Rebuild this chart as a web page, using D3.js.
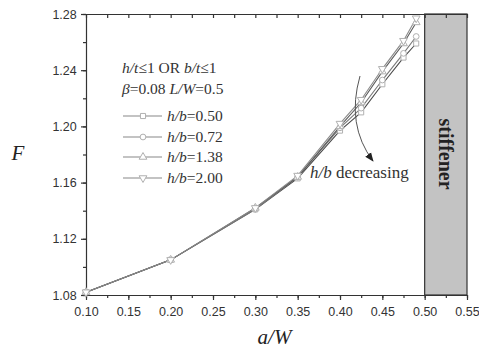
<!DOCTYPE html>
<html>
<head>
<meta charset="utf-8">
<script src="https://cdn.jsdelivr.net/npm/d3@7"></script>
<style>
  body { margin: 0; background: #fff; }
  svg { display: block; }
</style>
</head>
<body>
<div id="chart"></div>
<script>
// a/W values where F was computed
var aW = [0.10, 0.20, 0.30, 0.35, 0.40, 0.425, 0.45, 0.475, 0.49];
// F for each h/b
var F_hb200 = [1.082, 1.105, 1.142, 1.165, 1.202, 1.219, 1.241, 1.261, 1.277];
var F_hb138 = [1.082, 1.105, 1.142, 1.164, 1.200, 1.217, 1.239, 1.259, 1.274];
var F_hb072 = [1.082, 1.105, 1.141, 1.164, 1.199, 1.213, 1.233, 1.252, 1.264];
var F_hb050 = [1.082, 1.105, 1.141, 1.163, 1.197, 1.210, 1.230, 1.249, 1.259];
var seriesNames = ["h/b=0.50", "h/b=0.72", "h/b=1.38", "h/b=2.00"];
var xTicks = [0.10, 0.15, 0.20, 0.25, 0.30, 0.35, 0.40, 0.45, 0.50, 0.55];
var yTicks = [1.08, 1.12, 1.16, 1.20, 1.24, 1.28];
var stiffenerStart = 0.50;

var W = 479, H = 350;
var margin = {top: 14, right: 12, bottom: 55, left: 86};

var svg = d3.select("#chart").append("svg")
  .attr("width", W).attr("height", H);

var x = d3.scaleLinear().domain([0.10, 0.55]).range([margin.left, W - margin.right]);
var y = d3.scaleLinear().domain([1.08, 1.28]).range([H - margin.bottom, margin.top]);

var serif = "'Liberation Serif', 'DejaVu Serif', serif";
var sans = "'Liberation Sans', Arial, sans-serif";

// stiffener zone
svg.append("rect")
  .attr("x", x(stiffenerStart)).attr("y", y(1.28))
  .attr("width", x(0.55) - x(stiffenerStart))
  .attr("height", y(1.08) - y(1.28))
  .attr("fill", "#c3c3c3").attr("stroke", "#333").attr("stroke-width", 1.2);

svg.append("text")
  .attr("transform", "translate(" + (x(0.525) - 7) + "," + 154 + ") rotate(90)")
  .attr("text-anchor", "middle")
  .attr("font-family", serif).attr("font-weight", "bold").attr("font-size", 20)
  .attr("fill", "#222")
  .text("stiffener");

// minor ticks every 0.025 / 0.02
var xMinor = d3.range(0, 19).map(function(i) { return +(0.10 + i * 0.025).toFixed(3); });
var yMinor = d3.range(0, 11).map(function(i) { return +(1.08 + i * 0.02).toFixed(3); });

var axisColor = "#333";

var bottomAxis = svg.append("g")
  .attr("transform", "translate(0," + y(1.08) + ")")
  .call(d3.axisBottom(x).tickValues(xTicks).tickFormat(d3.format(".2f")).tickSize(5).tickSizeOuter(0));
svg.append("g")
  .attr("transform", "translate(0," + y(1.08) + ")")
  .call(d3.axisBottom(x).tickValues(xMinor).tickFormat("").tickSize(3).tickSizeOuter(0))
  .select(".domain").remove();

var leftAxis = svg.append("g")
  .attr("transform", "translate(" + x(0.10) + ",0)")
  .call(d3.axisLeft(y).tickValues(yTicks).tickFormat(d3.format(".2f")).tickSize(5).tickSizeOuter(0));
svg.append("g")
  .attr("transform", "translate(" + x(0.10) + ",0)")
  .call(d3.axisLeft(y).tickValues(yMinor).tickFormat("").tickSize(3).tickSizeOuter(0))
  .select(".domain").remove();

var topAxis = svg.append("g")
  .attr("transform", "translate(0," + y(1.28) + ")")
  .call(d3.axisBottom(x).tickValues(xMinor).tickFormat("").tickSize(4).tickSizeOuter(0));

[bottomAxis, leftAxis, topAxis].forEach(function(g) {
  g.selectAll("path, line").attr("stroke", axisColor).attr("stroke-width", 1.2);
  g.selectAll("text").attr("font-family", sans).attr("font-size", 12.5).attr("fill", "#333");
});
svg.selectAll("g line").attr("stroke", axisColor).attr("stroke-width", 1.2);
bottomAxis.selectAll("text").attr("dy", "1.05em");
leftAxis.selectAll("text").attr("dx", "-0.1em");

// axis titles
svg.append("text")
  .attr("x", x(0.325) - 2).attr("y", 344)
  .attr("text-anchor", "middle")
  .attr("font-family", serif).attr("font-style", "italic").attr("font-size", 21)
  .attr("fill", "#222")
  .text("a/W");
svg.append("text")
  .attr("x", 18).attr("y", y(1.176))
  .attr("text-anchor", "middle")
  .attr("font-family", serif).attr("font-style", "italic").attr("font-size", 21)
  .attr("fill", "#222")
  .text("F");

// series
var seriesData = [F_hb050, F_hb072, F_hb138, F_hb200];
var lineColors = ["#4a4a4a", "#7a7a7a", "#5c5c5c", "#8a8a8a"];
var symbols = [
  {type: d3.symbolSquare, rot: 0},
  {type: d3.symbolCircle, rot: 0},
  {type: d3.symbolTriangle, rot: 0},
  {type: d3.symbolTriangle, rot: 180}
];

var line = d3.line()
  .x(function(d) { return x(d[0]); })
  .y(function(d) { return y(d[1]); });

seriesData.forEach(function(vals, i) {
  var pts = aW.map(function(a, j) { return [a, vals[j]]; });
  svg.append("path")
    .datum(pts)
    .attr("d", line)
    .attr("fill", "none")
    .attr("stroke", lineColors[i])
    .attr("stroke-width", 1.1);
});
seriesData.forEach(function(vals, i) {
  var pts = aW.map(function(a, j) { return [a, vals[j]]; });
  svg.append("g").selectAll("path")
    .data(pts)
    .enter().append("path")
    .attr("d", d3.symbol().type(symbols[i].type).size(26))
    .attr("transform", function(d) {
      return "translate(" + x(d[0]) + "," + y(d[1]) + ") rotate(" + symbols[i].rot + ")";
    })
    .attr("fill", "#fff")
    .attr("stroke", "#b0b0b0")
    .attr("stroke-width", 1);
});

// legend header
var hdr = svg.append("text")
  .attr("x", 122).attr("y", 73)
  .attr("font-family", serif).attr("font-size", 15.5).attr("fill", "#333");
hdr.append("tspan").attr("font-style", "italic").text("h/t");
hdr.append("tspan").text("\u22641 OR ");
hdr.append("tspan").attr("font-style", "italic").text("b/t");
hdr.append("tspan").text("\u22641");

var hdr2 = svg.append("text")
  .attr("x", 122).attr("y", 94)
  .attr("font-family", serif).attr("font-size", 15.5).attr("fill", "#333");
hdr2.append("tspan").attr("font-style", "italic").text("\u03b2");
hdr2.append("tspan").text("=0.08 ");
hdr2.append("tspan").attr("font-style", "italic").text("L/W");
hdr2.append("tspan").text("=0.5");

var legendY = [116, 137, 157, 178];
seriesNames.forEach(function(name, i) {
  var ly = legendY[i];
  svg.append("line")
    .attr("x1", 123).attr("x2", 162).attr("y1", ly).attr("y2", ly)
    .attr("stroke", "#888").attr("stroke-width", 1.1);
  svg.append("path")
    .attr("d", d3.symbol().type(symbols[i].type).size(26))
    .attr("transform", "translate(143," + ly + ") rotate(" + symbols[i].rot + ")")
    .attr("fill", "#fff").attr("stroke", "#b0b0b0");
  var t = svg.append("text")
    .attr("x", 167).attr("y", ly + 5)
    .attr("font-family", serif).attr("font-size", 15.5).attr("fill", "#333");
  var parts = name.split("=");
  t.append("tspan").attr("font-style", "italic").text(parts[0]);
  t.append("tspan").text("=" + parts[1]);
});

// h/b decreasing annotation
var ann = svg.append("text")
  .attr("x", 310).attr("y", 178)
  .attr("font-family", serif).attr("font-size", 17).attr("fill", "#333");
ann.append("tspan").attr("font-style", "italic").text("h/b");
ann.append("tspan").text(" decreasing");

svg.append("defs").append("marker")
  .attr("id", "arrow")
  .attr("viewBox", "0 0 10 10")
  .attr("refX", 9).attr("refY", 5)
  .attr("markerWidth", 9).attr("markerHeight", 9)
  .attr("markerUnits", "userSpaceOnUse")
  .attr("orient", "auto")
  .append("path").attr("d", "M0,1 L10,5 L0,9 Z").attr("fill", "#222");

svg.append("path")
  .attr("d", "M360,76 Q346,125 373,161")
  .attr("fill", "none")
  .attr("stroke", "#555")
  .attr("stroke-width", 1)
  .attr("marker-end", "url(#arrow)");
</script>
</body>
</html>
